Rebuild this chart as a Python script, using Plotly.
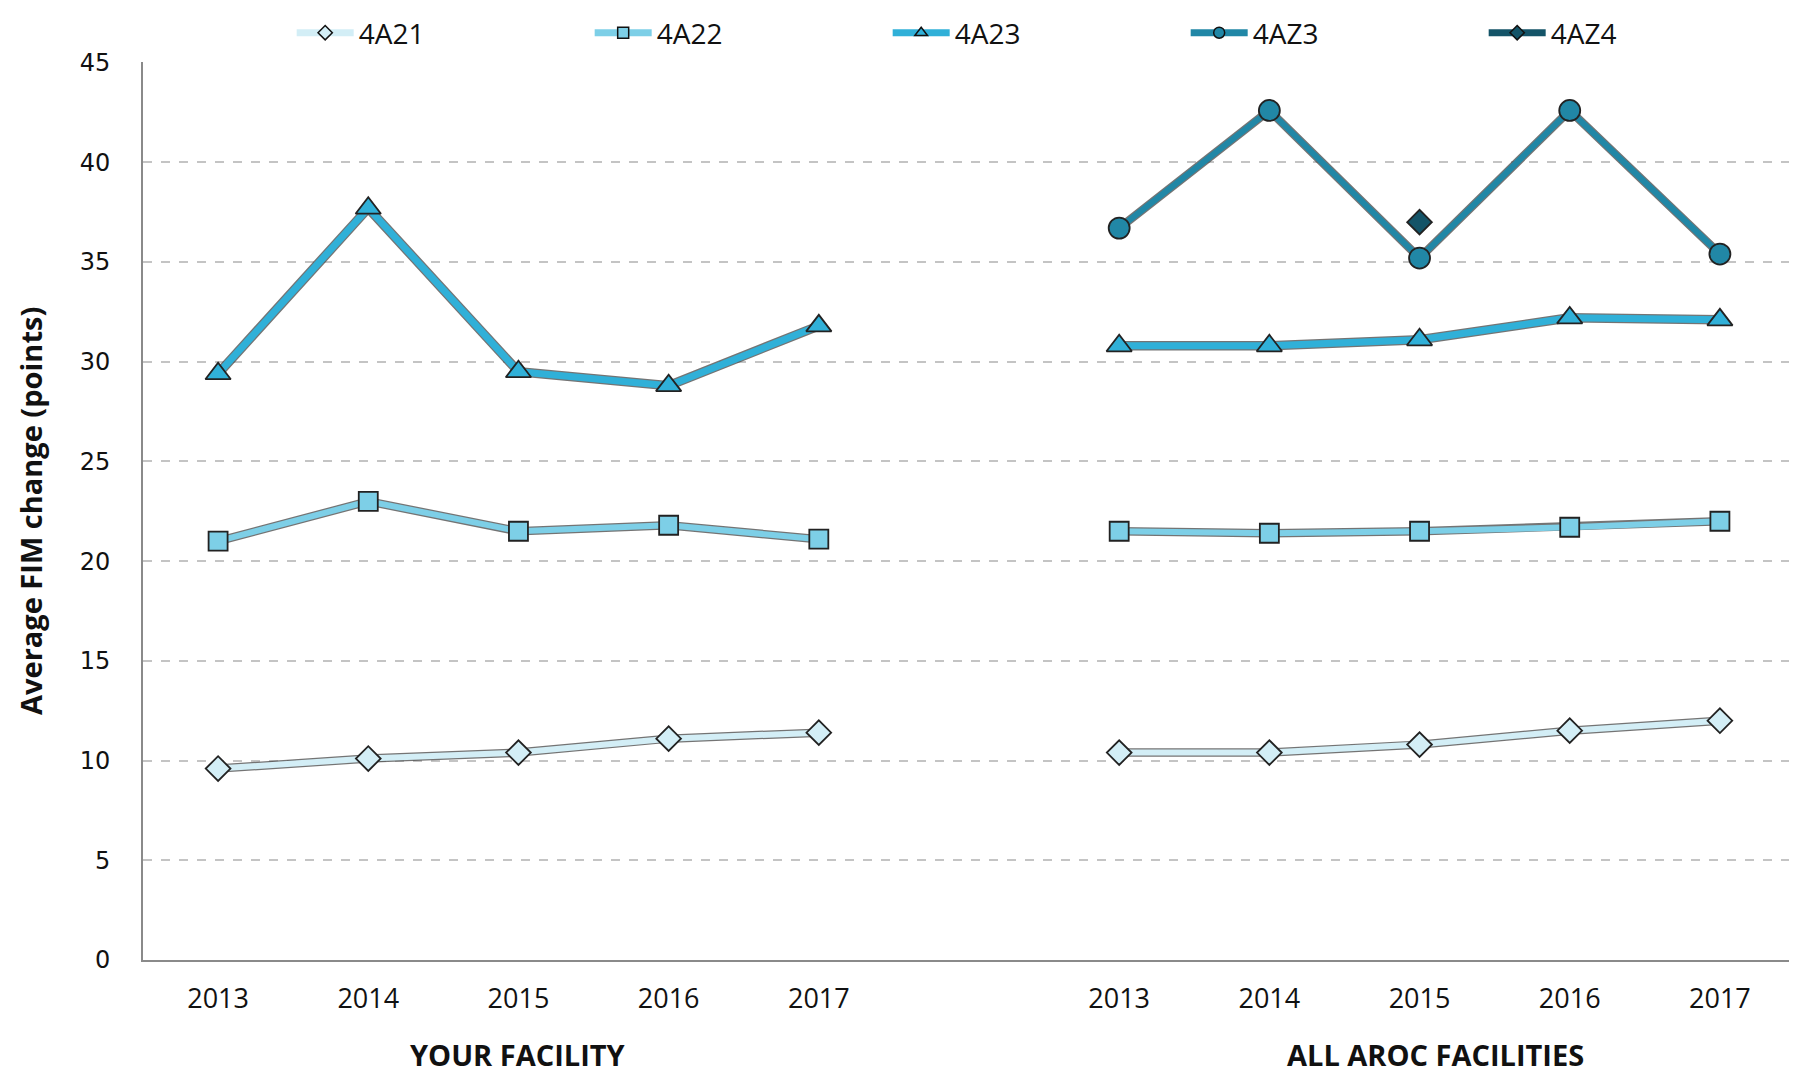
import plotly.graph_objects as go

years = ["2013", "2014", "2015", "2016", "2017"]
groups = ["YOUR FACILITY", "ALL AROC FACILITIES"]

# values: your facility
a21_yours = [9.6, 10.1, 10.4, 11.1, 11.4]
a22_yours = [21.0, 23.0, 21.5, 21.8, 21.1]
a23_yours = [29.4, 37.7, 29.5, 28.8, 31.8]
# values: all AROC facilities
a21_all = [10.4, 10.4, 10.8, 11.5, 12.0]
a22_all = [21.5, 21.4, 21.5, 21.7, 22.0]
a23_all = [30.8, 30.8, 31.1, 32.2, 32.1]
az3_all = [36.7, 42.6, 35.2, 42.6, 35.4]
az4_all = [None, None, 37.0, None, None]

yticks = [0, 5, 10, 15, 20, 25, 30, 35, 40, 45]

x_left = [0, 1, 2, 3, 4]
x_right = [6, 7, 8, 9, 10]

series = [
    ("4A21", "#d3eef6", "diamond", 19, 6, a21_yours, a21_all),
    ("4A22", "#7dcfe7", "square", 19, 6, a22_yours, a22_all),
    ("4A23", "#30b0d8", "triangle-up", 22, 7, a23_yours, a23_all),
    ("4AZ3", "#2187a6", "circle", 21, 6, None, az3_all),
    ("4AZ4", "#145468", "diamond", 19, 6, None, az4_all),
]

NARROW = "Liberation Sans Narrow, Open Sans, sans-serif"

fig = go.Figure()

for name, color, sym, msize, lw, yours, allv in series:
    for xs, ys in ((x_left, yours), (x_right, allv)):
        if ys is None:
            continue
        # dark outline under the line
        fig.add_trace(go.Scatter(
            x=xs, y=ys, mode="lines", showlegend=False, hoverinfo="skip",
            line=dict(color="rgba(70,70,70,0.75)", width=lw + 2.5)))
        fig.add_trace(go.Scatter(
            x=xs, y=ys, mode="lines+markers", name=name, showlegend=False,
            line=dict(color=color, width=lw),
            marker=dict(symbol=sym, size=msize, color=color,
                        line=dict(color="#222", width=1.8))))
    # legend entry
    fig.add_trace(go.Scatter(
        x=[None], y=[None], mode="lines+markers", name=name,
        line=dict(color=color, width=7),
        marker=dict(symbol=sym, size=11, color=color,
                    line=dict(color="#111", width=1.5))))

# page body has an 8px margin: compensate so the plot area lands at 143..1795 x 62..960
fig.update_layout(
    width=1789, height=1066,
    margin=dict(l=135, r=2, t=54, b=114, autoexpand=False),
    paper_bgcolor="white", plot_bgcolor="white",
    showlegend=True,
    legend=dict(orientation="h", x=0.09, xanchor="left", y=1.0601, yanchor="top",
                entrywidth=226, entrywidthmode="pixels", itemwidth=57,
                font=dict(family=NARROW, size=28, color="#111")),
    xaxis=dict(range=[-0.5, 10.5], tickvals=x_left + x_right, ticktext=years + years,
               showgrid=False, zeroline=False, showline=True, linecolor="#8a8a8a", linewidth=2,
               ticks="", ticklabelstandoff=14,
               tickfont=dict(family=NARROW, size=27, color="#111")),
    yaxis=dict(range=[0, 45.03], tickvals=yticks, showgrid=True, gridcolor="#c4c4c4", griddash="dash",
               gridwidth=1.5, zeroline=False, showline=True, linecolor="#8a8a8a", linewidth=2,
               ticks="", ticklabelstandoff=26,
               tickfont=dict(family="DejaVu Sans, sans-serif", size=24, color="#111")),
    annotations=[
        dict(text="<b>Average FIM change (points)</b>", textangle=-90, xref="paper", yref="paper",
             x=-0.0684, y=0.5, xanchor="center", yanchor="middle", showarrow=False,
             font=dict(family=NARROW, size=29, color="#111")),
        dict(text="<b>" + groups[0] + "</b>", xref="x", yref="paper", x=2, y=-0.1047,
             xanchor="center", yanchor="middle", showarrow=False,
             font=dict(family=NARROW, size=29, color="#111")),
        dict(text="<b>" + groups[1] + "</b>", xref="x", yref="paper", x=8, xshift=16, y=-0.1047,
             xanchor="center", yanchor="middle", showarrow=False,
             font=dict(family=NARROW, size=29, color="#111")),
    ],
)

fig.write_html("out.html")
